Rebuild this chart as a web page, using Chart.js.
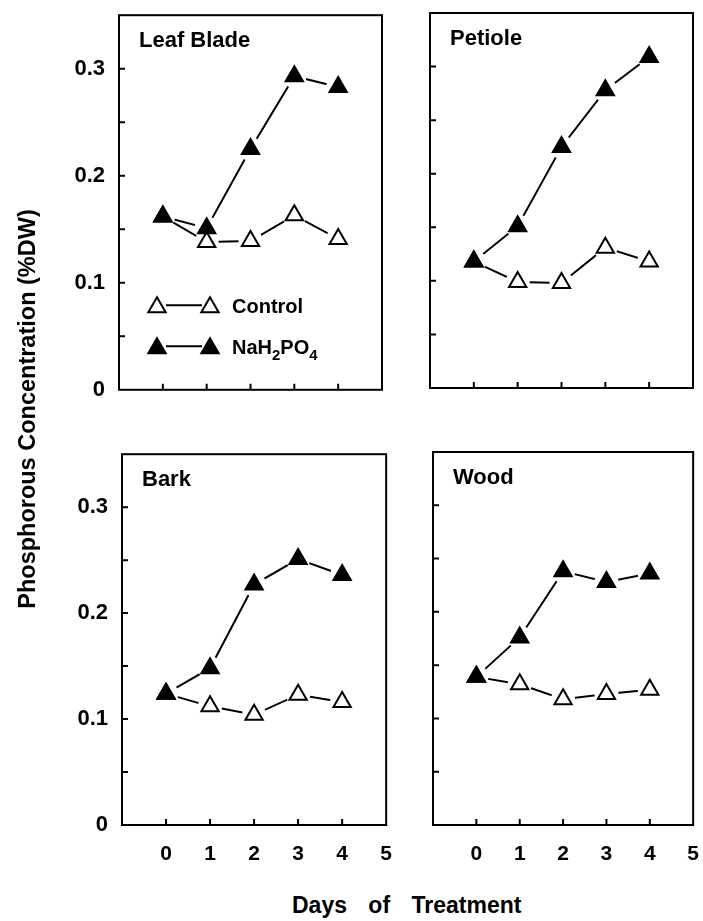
<!DOCTYPE html>
<html>
<head>
<meta charset="utf-8">
<script src="https://cdn.jsdelivr.net/npm/chart.js@4.4.0/dist/chart.umd.min.js"></script>
<style>
body{margin:0;background:#fff;width:703px;height:921px;position:relative;overflow:hidden;font-family:"Liberation Sans",Arial,sans-serif;}
canvas{position:absolute;}
#ytitle{position:absolute;width:420px;height:26px;line-height:26px;text-align:center;font-weight:bold;font-size:23.5px;left:-183px;top:396px;transform:rotate(-90deg);transform-origin:center;}
#xtitle{position:absolute;left:292px;top:894px;line-height:23px;font-weight:bold;font-size:23px;word-spacing:15px;white-space:nowrap;}
</style>
</head>
<body>
<canvas id="leaf"></canvas>
<canvas id="petiole"></canvas>
<canvas id="bark"></canvas>
<canvas id="wood"></canvas>
<div id="ytitle">Phosphorous Concentration (%DW)</div>
<div id="xtitle">Days of Treatment</div>
<script>
// data
const days=[0,1,2,3,4];
const yLabelTicks=[0,0.1,0.2,0.3];
const yMinorTicks=[0.05,0.15,0.25];

const leafControl=[0.162,0.138,0.139,0.163,0.141];
const leafNaH=[0.162,0.151,0.225,0.293,0.283];
const petioleControl=[0.118,0.099,0.098,0.131,0.118];
const petioleNaH=[0.118,0.151,0.225,0.278,0.309];
const barkControl=[0.124,0.112,0.104,0.123,0.116];
const barkNaH=[0.124,0.148,0.227,0.251,0.236];
const woodControl=[0.139,0.132,0.118,0.123,0.127];
const woodNaH=[0.139,0.176,0.238,0.228,0.236];

const FONT='"Liberation Sans", Arial, sans-serif';

function tri(ctx,cx,cy,r,filled){
ctx.beginPath();
ctx.moveTo(cx,cy-r);
ctx.lineTo(cx+r*0.866,cy+r/2);
ctx.lineTo(cx-r*0.866,cy+r/2);
ctx.closePath();
ctx.fillStyle=filled?"#000":"#fff";
ctx.fill();
ctx.lineWidth=2;
ctx.strokeStyle="#000";
ctx.stroke();
}

function drawLegend(ctx,a){
const rows=[{dy:290,filled:false},{dy:331,filled:true}];
rows.forEach(r=>{
const cy=a.top+r.dy;
ctx.lineWidth=2;
ctx.beginPath();
ctx.moveTo(a.left+47,cy);
ctx.lineTo(a.left+83,cy);
ctx.stroke();
tri(ctx,a.left+38,cy+2,10,r.filled);
tri(ctx,a.left+91,cy+2,10,r.filled);
});
ctx.fillStyle="#000";
ctx.textAlign="left";
ctx.textBaseline="alphabetic";
ctx.font="bold 20px "+FONT;
ctx.fillText("Control",a.left+113,a.top+298);
// NaH2PO4 with subscripts
let x=a.left+113;
const base=a.top+339;
const parts=[["NaH",false],["2",true],["PO",false],["4",true]];
parts.forEach(p=>{
ctx.font=p[1]?"bold 15px "+FONT:"bold 20px "+FONT;
ctx.fillText(p[0],x,p[1]?base+6:base);
x+=ctx.measureText(p[0]).width;
});
}

const panelPlugin={
id:"panel",
afterDraw(chart,args,o){
const {ctx,chartArea:a,scales:{x,y}}=chart;
ctx.save();
ctx.strokeStyle="#000";
ctx.lineWidth=2;
ctx.strokeRect(a.left,a.top,a.right-a.left,a.bottom-a.top);
ctx.beginPath();
days.forEach(d=>{
const px=x.getPixelForValue(d);
ctx.moveTo(px,a.bottom);
ctx.lineTo(px,a.bottom-6);
});
yLabelTicks.concat(yMinorTicks).forEach(v=>{
if(v<=0) return;
const py=y.getPixelForValue(v);
ctx.moveTo(a.left,py);
ctx.lineTo(a.left+6,py);
});
ctx.stroke();
ctx.fillStyle="#000";
ctx.font="bold 22px "+FONT;
ctx.textAlign="left";
ctx.textBaseline="alphabetic";
ctx.fillText(o.title,a.left+20,a.top+32);
if(o.legend) drawLegend(ctx,a);
ctx.restore();
}
};

function pts(arr){
return arr.map((v,i)=>({x:days[i],y:v}));
}

function buildChart(cv,title,control,nah,showY,showX,legend,xAxisH){
const line={borderColor:"#000",borderWidth:2,pointRadius:0,fill:false,tension:0,order:5};
const halo={showLine:false,pointStyle:"circle",pointRadius:12,pointBackgroundColor:"#fff",pointBorderWidth:0,order:3};
return new Chart(cv,{
type:"line",
data:{
datasets:[
{...line,label:"Control line",data:pts(control)},
{...line,label:"NaH2PO4 line",data:pts(nah)},
{...halo,label:"h1",data:pts(control)},
{...halo,label:"h2",data:pts(nah)},
{label:"Control",data:pts(control),showLine:false,pointStyle:"triangle",pointRadius:10,pointBackgroundColor:"#fff",pointBorderColor:"#000",pointBorderWidth:2,order:1},
{label:"NaH2PO4",data:pts(nah),showLine:false,pointStyle:"triangle",pointRadius:10,pointBackgroundColor:"#000",pointBorderColor:"#000",pointBorderWidth:2,order:0}
]
},
options:{
responsive:false,
maintainAspectRatio:false,
animation:false,
layout:{padding:{top:6,right:16,left:0,bottom:0}},
plugins:{legend:{display:false},tooltip:{enabled:false},panel:{title:title,legend:legend}},
scales:{
x:{
type:"linear",min:-1,max:5,
grid:{display:false,drawTicks:false},
border:{display:false},
ticks:{display:showX,stepSize:1,padding:17,color:"#000",font:{family:FONT,size:21,weight:"bold"},
callback:v=>v>=0?String(v):""},
afterFit:s=>{s.height=xAxisH;}
},
y:{
min:0,max:0.35,
grid:{display:false,drawTicks:false},
border:{display:false},
ticks:{display:showY,stepSize:0.05,padding:14,color:"#000",font:{family:FONT,size:22,weight:"bold"},
callback:v=>{const r=Math.round(v*100)/100;return yLabelTicks.includes(r)?String(r):"";}},
afterFit:s=>{s.width=showY?80:8;}
}
}
},
plugins:[panelPlugin]
});
}

function makePanel(id,box,title,control,nah,showY,showX,legend){
const cv=document.getElementById(id);
const xAxisH=showX?52:8;
const W=box.right-box.left, H=box.bottom-box.top;
let cw=W+120, ch=H+80;
cv.width=cw; cv.height=ch;
let chart=buildChart(cv,title,control,nah,showY,showX,legend,xAxisH);
let a=chart.chartArea;
cw+=W-(a.right-a.left);
ch+=H-(a.bottom-a.top);
chart.destroy();
cv.width=cw; cv.height=ch;
chart=buildChart(cv,title,control,nah,showY,showX,legend,xAxisH);
a=chart.chartArea;
cv.style.left=(box.left-a.left)+"px";
cv.style.top=(box.top-a.top)+"px";
}

makePanel("leaf",{left:119,top:15,right:382,bottom:390},"Leaf Blade",leafControl,leafNaH,true,false,true);
makePanel("petiole",{left:430,top:13,right:693,bottom:388},"Petiole",petioleControl,petioleNaH,false,false,false);
makePanel("bark",{left:122,top:454,right:387,bottom:825},"Bark",barkControl,barkNaH,true,true,false);
makePanel("wood",{left:433,top:452,right:694,bottom:825},"Wood",woodControl,woodNaH,false,true,false);
</script>
</body>
</html>
